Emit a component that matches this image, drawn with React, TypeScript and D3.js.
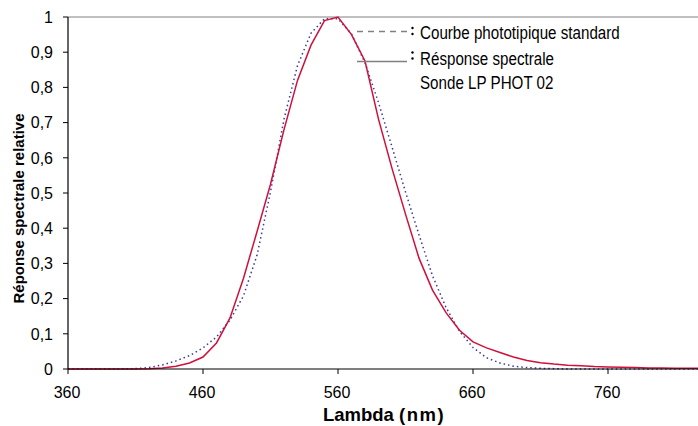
import React from "react";
import * as d3 from "d3";

const wavelengths = [360, 370, 380, 390, 400, 410, 420, 430, 440, 450, 460, 470, 480, 490, 500, 510, 520, 530, 540, 550, 560, 570, 580, 590, 600, 610, 620, 630, 640, 650, 660, 670, 680, 690, 700, 710, 720, 730, 740, 750, 760, 770, 780, 790, 800, 810, 820, 830];

const probeResponse = [0, 0, 0, 0, 0, 0, 0.001, 0.003, 0.008, 0.017, 0.034, 0.074, 0.145, 0.258, 0.39, 0.525, 0.68, 0.82, 0.92, 0.99, 1.0, 0.95, 0.875, 0.71, 0.57, 0.44, 0.315, 0.224, 0.16, 0.11, 0.077, 0.06, 0.047, 0.034, 0.024, 0.018, 0.014, 0.011, 0.009, 0.007, 0.006, 0.005, 0.004, 0.003, 0.003, 0.002, 0.002, 0.002];

const standardCurve = [0, 0, 0, 0, 0.0004, 0.0012, 0.004, 0.0116, 0.023, 0.038, 0.06, 0.091, 0.139, 0.208, 0.323, 0.503, 0.71, 0.862, 0.954, 0.995, 0.995, 0.952, 0.87, 0.757, 0.631, 0.503, 0.381, 0.265, 0.175, 0.107, 0.061, 0.032, 0.017, 0.008, 0.004, 0.002, 0.001, 0, 0, 0, 0, 0, 0, 0, 0, 0, 0, 0];

const xTicks = [360, 460, 560, 660, 760];
const yTicks = [0, 0.1, 0.2, 0.3, 0.4, 0.5, 0.6, 0.7, 0.8, 0.9, 1];

const legendLabels = ["Courbe phototipique standard", "Résponse spectrale", "Sonde LP PHOT 02"];

export default function App() {
  const W = 698, H = 426;
  const left = 68, top = 17, bottom = 369;
  const x = d3.scaleLinear().domain([360, 830]).range([left, left + 470 * 1.35]);
  const y = d3.scaleLinear().domain([0, 1]).range([bottom, top]);
  const fmt = (v: number) => (Math.round(v * 10) / 10).toString().replace(".", ",");

  const line = d3.line<number>().x((_, i) => x(wavelengths[i])).y((d) => y(d)).curve(d3.curveLinear);

  const font = "'Liberation Sans', Arial, sans-serif";

  return (
    <svg width={W} height={H} style={{ position: "absolute", left: 0, top: 0, background: "#fff" }} fontFamily={font}>
      <rect x={0} y={0} width={W} height={H} fill="#fff" />
      {/* top border */}
      <line x1={left} x2={W} y1={top} y2={top} stroke="#808080" strokeWidth={1} />
      {/* curves */}
      <path d={line(standardCurve) || ""} fill="none" stroke="#3a3a9c" strokeWidth={1.5} strokeDasharray="1.5 3" />
      <path d={line(probeResponse) || ""} fill="none" stroke="#d0103c" strokeWidth={1.5} />
      {/* axes */}
      <line x1={left} x2={left} y1={top} y2={bottom} stroke="#000" strokeWidth={1.2} />
      <line x1={left} x2={W} y1={bottom} y2={bottom} stroke="#000" strokeWidth={1.2} />
      {yTicks.map((t) => (
        <g key={"y" + t}>
          <line x1={left - 5} x2={left} y1={y(t)} y2={y(t)} stroke="#000" strokeWidth={1} />
          <text x={53} y={y(t)} dy="0.36em" textAnchor="end" fontSize={16} fill="#000">{fmt(t)}</text>
        </g>
      ))}
      {xTicks.map((t) => (
        <g key={"x" + t}>
          <line x1={x(t)} x2={x(t)} y1={bottom} y2={bottom + 5} stroke="#000" strokeWidth={1} />
          <text x={x(t) - 1} y={398} textAnchor="middle" fontSize={16} fill="#000">{t}</text>
        </g>
      ))}
      {/* axis titles */}
      <text x={384} y={421} textAnchor="middle" fontSize={18.5} fontWeight="bold" fill="#000">
        Lambda <tspan letterSpacing={1.5}>(nm)</tspan>
      </text>
      <text transform={`translate(24,208.5) rotate(-90)`} textAnchor="middle" fontSize={15} fontWeight="bold" fill="#000">
        Réponse spectrale relative
      </text>
      {/* legend */}
      <line x1={357} x2={407} y1={31.5} y2={31.5} stroke="#808080" strokeWidth={1.5} strokeDasharray="6 5" />
      <circle cx={412.5} cy={28} r={1.2} fill="#000" />
      <circle cx={412.5} cy={34} r={1.2} fill="#000" />
      <line x1={357} x2={407} y1={61.5} y2={61.5} stroke="#808080" strokeWidth={1.5} />
      <circle cx={412.5} cy={52.5} r={1.2} fill="#000" />
      <circle cx={412.5} cy={58.5} r={1.2} fill="#000" />
      {legendLabels.map((s, i) => (
        <text key={s} transform={`translate(420,${[39.3, 65, 89.3][i]}) scale(0.82,1)`} fontSize={18.5} fill="#000">{s}</text>
      ))}
    </svg>
  );
}
